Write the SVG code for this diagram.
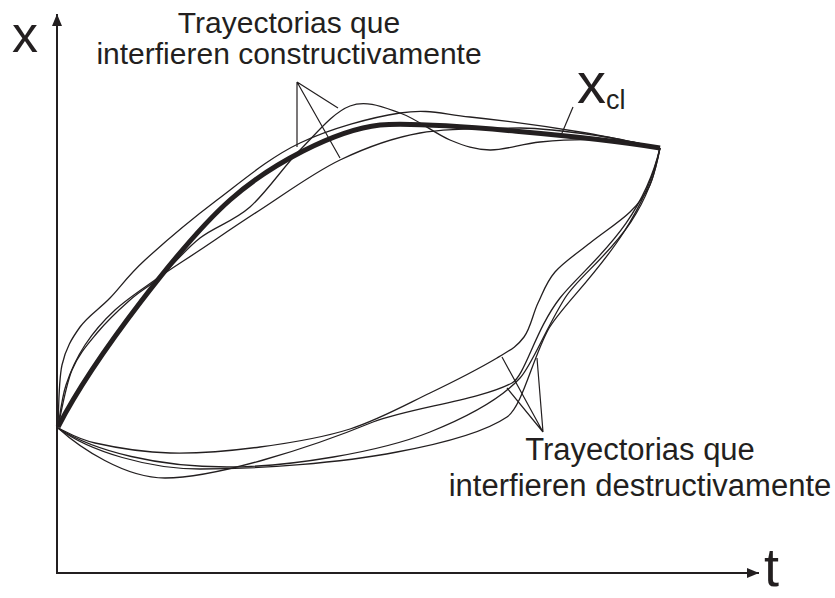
<svg xmlns="http://www.w3.org/2000/svg" width="835" height="598" viewBox="0 0 835 598">
<style>
.thin{fill:none;stroke:#231f20;stroke-width:1.3}
.thick{fill:none;stroke:#231f20;stroke-width:5}
.axis{fill:none;stroke:#231f20;stroke-width:2}
.lead{fill:none;stroke:#231f20;stroke-width:1.2}
text{font-family:"Liberation Sans",Arial,sans-serif;fill:#231f20}
</style>
<defs>
<marker id="arr" viewBox="0 0 12 10" refX="12" refY="5" markerWidth="12" markerHeight="10" orient="auto" markerUnits="userSpaceOnUse"><path d="M0,0 L12,5 L0,10 Z" fill="#231f20"/></marker>
</defs>
<rect width="835" height="598" fill="#ffffff"/>
<g id="axes">
<path class="axis" d="M57,573 L57,14" marker-end="url(#arr)"/>
<path class="axis" d="M56,573 L759,573" marker-end="url(#arr)"/>
<text x="12" y="52" font-size="52">x</text>
<text x="764" y="586" font-size="54">t</text>
</g>
<g id="trajectories">
<path id="classical" class="thick" d="M58,427 C95,355 185,240 230,200 C270,164.4 335,130 380,125 C430,121 600,138 660,148"/>
<path id="u1" class="thin" d="M58,427 C60.3,417.5 65.5,385.7 72,370 C78.5,354.3 87.3,344.7 97,333 C106.7,321.3 119.5,309.3 130,300 C140.5,290.7 148.3,287.3 160,277 C171.7,266.7 185,249.7 200,238 C215,226.3 233.3,221.7 250,207 C266.7,192.3 283.3,166.8 300,150 C316.7,133.2 333.3,112.2 350,106 C366.7,99.8 383.3,107.3 400,113 C416.7,118.7 435,133.8 450,140 C465,146.2 475,149.7 490,150 C505,150.3 521.7,143.7 540,142 C558.3,140.3 580,139 600,140 C620,141 650,146.7 660,148"/>
<path id="u2" class="thin" d="M58,427 C58.7,416.7 58.3,381.7 62,365 C65.7,348.3 72,338.2 80,327 C88,315.8 99.2,309.2 110,298 C120.8,286.8 127.2,276.3 145,260 C162.8,243.7 191.2,219.5 217,200 C242.8,180.5 269.5,157.5 300,143 C330.5,128.5 371.7,117.3 400,113 C428.3,108.7 440,113.8 470,117 C500,120.2 548.3,126.8 580,132 C611.7,137.2 646.7,145.3 660,148"/>
<path id="u3" class="thin" d="M58,427 C59.3,420 61.5,398.7 66,385 C70.5,371.3 76.8,357.5 85,345 C93.2,332.5 103.3,320.8 115,310 C126.7,299.2 140.8,290 155,280 C169.2,270 182.5,261.7 200,250 C217.5,238.3 236.7,225 260,210 C283.3,195 313.3,172.8 340,160 C366.7,147.2 390,138.3 420,133 C450,127.7 490,128.5 520,128 C550,128.5 576.7,132.7 600,136 C623.3,139.3 650,146 660,148"/>
<path id="d1" class="thin" d="M58,428 C64.2,430.5 76.3,438.8 95,443 C113.7,447.2 142.5,452.3 170,453 C197.5,453.7 230,451 260,447 C290,443 321.7,438 350,429 C378.3,420 405.5,404.8 430,393 C454.5,381.2 481.3,367.3 497,358 C512.7,348.7 517.2,346.2 524,337 C530.8,327.8 532.8,313.8 538,303 C543.2,292.2 546.3,282 555,272 C563.7,262 577.5,253 590,243 C602.5,233 620,221.7 630,212 C640,202.3 645,195.7 650,185 C655,174.3 658.3,154.2 660,148"/>
<path id="d2" class="thin" d="M58,428 C95,452 160,467 227,467 C290,467 380,452 430,432 C465,418 500,400 520,378 C532,365 545,330 565,298 C585,266 645,235 660,148"/>
<path id="d3" class="thin" d="M58,428 C90,452 150,469 200,469 C260,469 340,463 397,452 C440,444 485,432 507,417 C522,407 532,360 548,330 C565,298 640,240 660,148"/>
<path id="d4" class="thin" d="M58,428 C80,448 125,478 165,478 C215,478 310,448 373,422 C410,408 480,400 512,383 C525,376 535,330 560,298 C585,266 640,230 660,148"/>
</g>
<g id="connectors">
<path class="lead" d="M297,82 L297,147 M297,82 L338,108 M297,82 L340,158"/>
<path class="lead" d="M573,107 L562,133"/>
<path class="lead" d="M543,432 L502,357 M543,432 L507,388 M543,432 L537,358"/>
</g>
<g id="label-constructive">
<text x="289" y="33" font-size="30" text-anchor="middle">Trayectorias que</text>
<text x="289" y="64" font-size="30" text-anchor="middle">interfieren constructivamente</text>
</g>
<g id="label-classical">
<text x="577" y="103" font-size="58">x<tspan font-size="27" dy="6">cl</tspan></text>
</g>
<g id="label-destructive">
<text x="640" y="460" font-size="31" text-anchor="middle">Trayectorias que</text>
<text x="640" y="496" font-size="31" text-anchor="middle">interfieren destructivamente</text>
</g>
</svg>
